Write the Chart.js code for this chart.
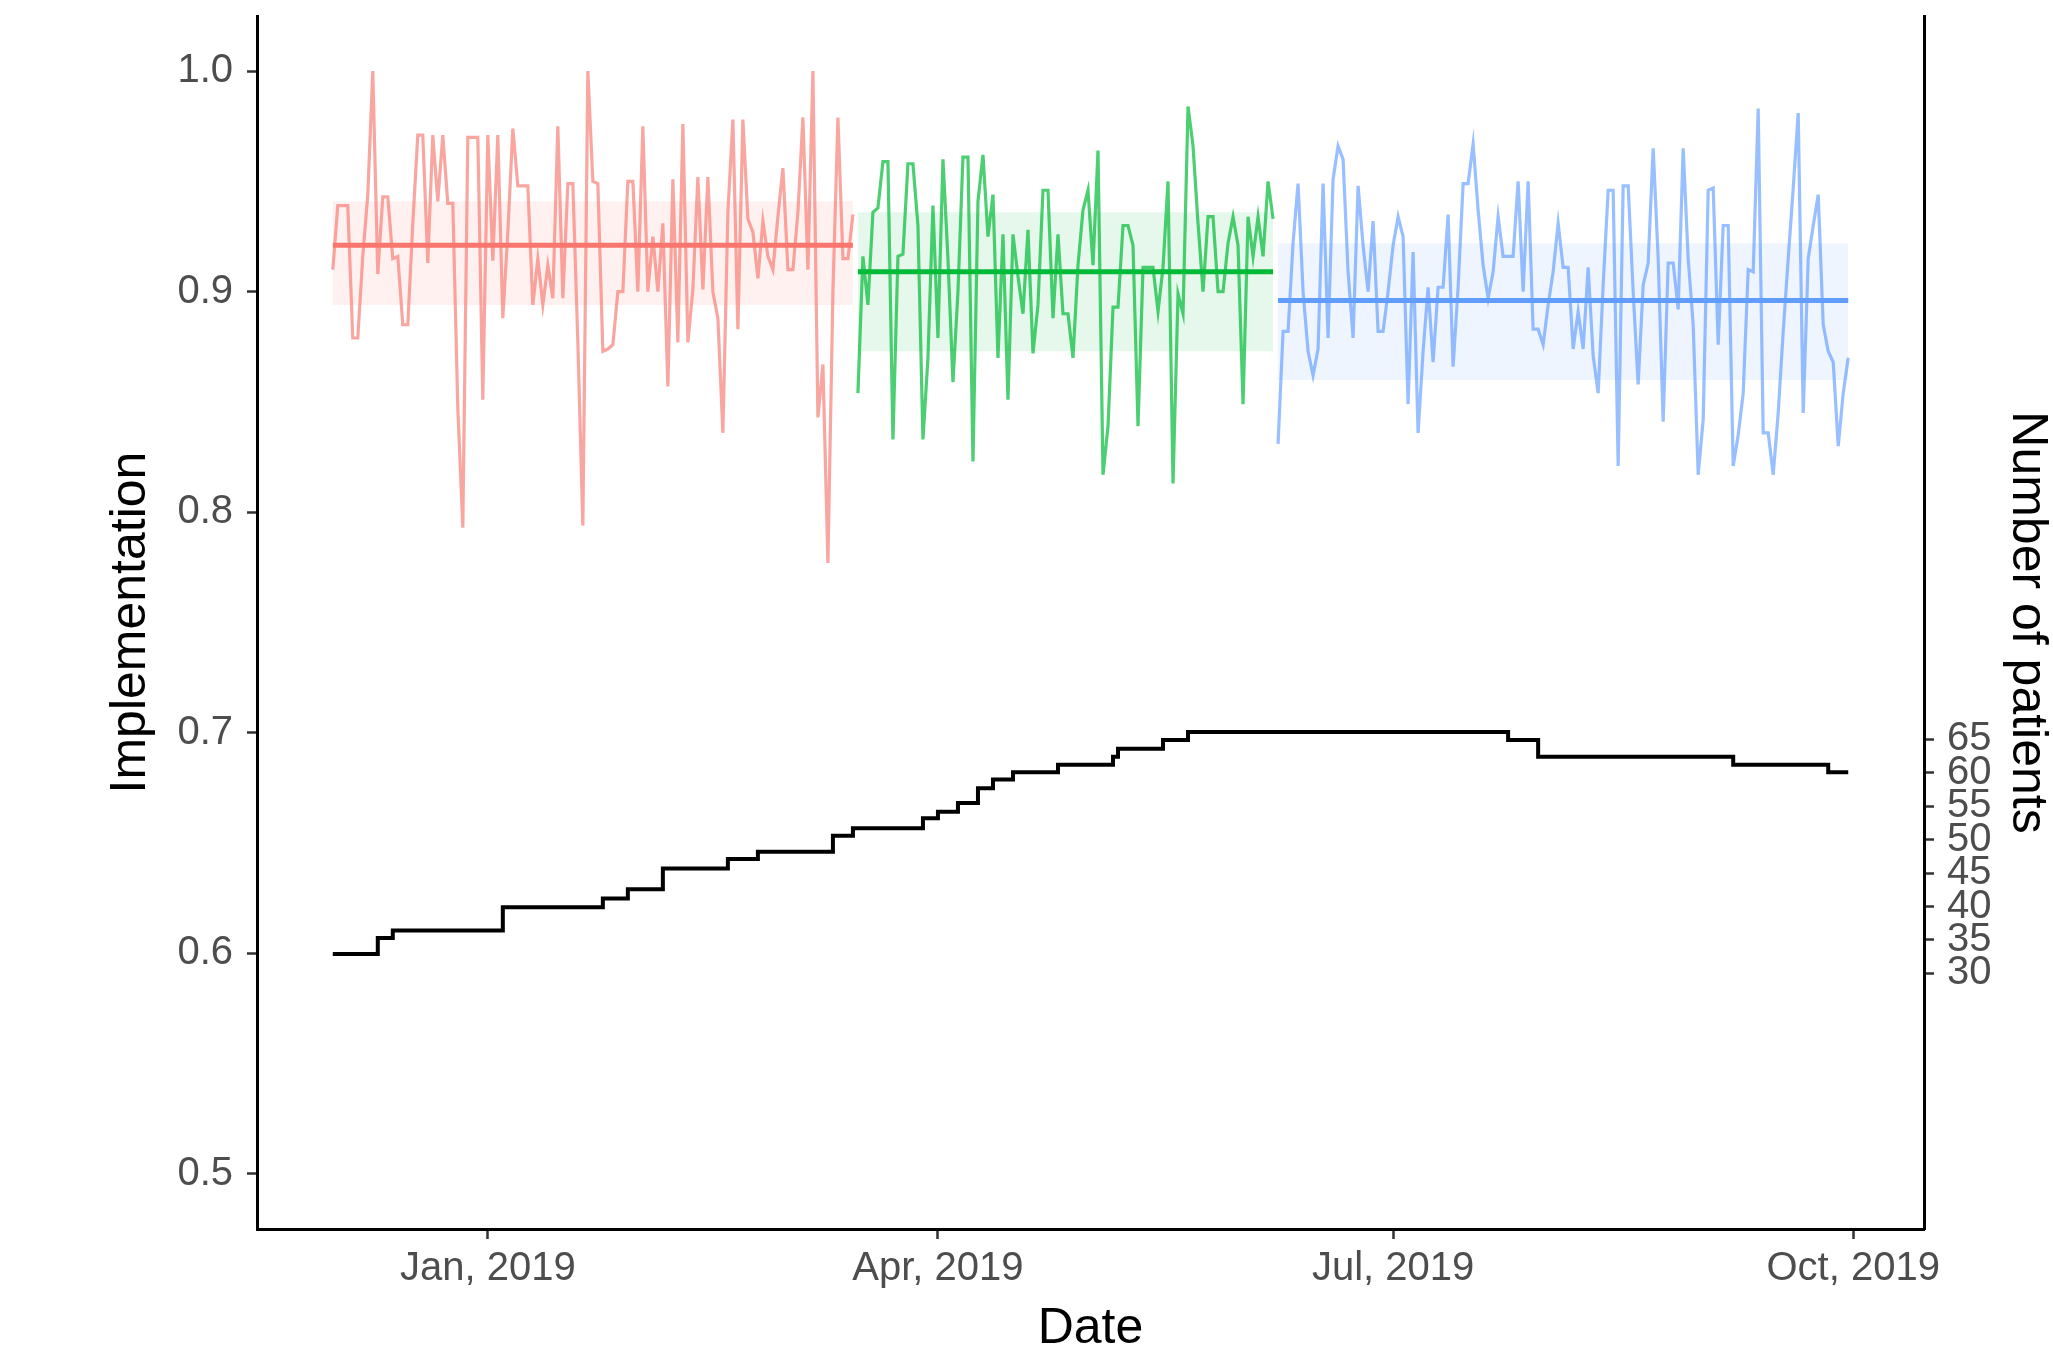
<!DOCTYPE html>
<html lang="en">
<head>
    <meta charset="UTF-8">
    <title>Implementation over time</title>
    <script src="https://cdn.jsdelivr.net/npm/chart.js"></script>
    <style>
        html, body { margin: 0; padding: 0; background: #ffffff; }
        #wrap { width: 2053px; height: 1346px; }
    </style>
</head>
<body>
<div id="wrap"><canvas id="grafico" width="2053" height="1346"></canvas></div>

<script>
    // three phases, each one a daily series (red, green, blue)
    const phaseStart = ['2018-12-01', '2019-03-16', '2019-06-08'];
    const phaseMean = [0.921, 0.909, 0.896];
    const phaseLow = [0.894, 0.873, 0.860];
    const phaseHigh = [0.941, 0.936, 0.922];

    const redValues = [
        0.910, 0.939, 0.939, 0.939, 0.879, 0.879, 0.916, 0.944, 1.000, 0.908,
        0.943, 0.943, 0.915, 0.916, 0.885, 0.885, 0.931, 0.971, 0.971, 0.913,
        0.971, 0.941, 0.971, 0.940, 0.940, 0.847, 0.793, 0.970, 0.970, 0.970,
        0.851, 0.971, 0.914, 0.971, 0.888, 0.927, 0.974, 0.948, 0.948, 0.948,
        0.894, 0.915, 0.894, 0.912, 0.897, 0.975, 0.897, 0.949, 0.949, 0.877,
        0.794, 1.000, 0.950, 0.949, 0.873, 0.874, 0.876, 0.900, 0.900, 0.950,
        0.950, 0.900, 0.975, 0.900, 0.925, 0.900, 0.931, 0.857, 0.951, 0.877,
        0.976, 0.877, 0.901, 0.952, 0.901, 0.952, 0.900, 0.888, 0.836, 0.936,
        0.978, 0.883, 0.978, 0.933, 0.927, 0.906, 0.932, 0.916, 0.910, 0.934,
        0.956, 0.910, 0.910, 0.936, 0.979, 0.910, 1.000, 0.843, 0.867, 0.777,
        0.900, 0.979, 0.915, 0.915, 0.935
    ];

    const greenValues = [
        0.854, 0.916, 0.894, 0.936, 0.938, 0.959, 0.959, 0.833, 0.916, 0.917,
        0.958, 0.958, 0.930, 0.833, 0.870, 0.939, 0.879, 0.960, 0.915, 0.859,
        0.900, 0.961, 0.961, 0.823, 0.941, 0.962, 0.925, 0.944, 0.870, 0.926,
        0.851, 0.926, 0.907, 0.890, 0.928, 0.872, 0.894, 0.946, 0.946, 0.888,
        0.926, 0.890, 0.890, 0.870, 0.912, 0.937, 0.946, 0.912, 0.964, 0.817,
        0.839, 0.893, 0.893, 0.930, 0.930, 0.921, 0.839, 0.911, 0.911, 0.911,
        0.891, 0.911, 0.950, 0.813, 0.899, 0.890, 0.984, 0.966, 0.931, 0.900,
        0.934, 0.934, 0.900, 0.900, 0.922, 0.934, 0.921, 0.849, 0.934, 0.916,
        0.934, 0.916, 0.950, 0.933
    ];

    const blueValues = [
        0.831, 0.882, 0.882, 0.922, 0.949, 0.900, 0.873, 0.862, 0.874, 0.949,
        0.879, 0.951, 0.966, 0.960, 0.909, 0.879, 0.948, 0.921, 0.900, 0.932,
        0.882, 0.882, 0.900, 0.921, 0.934, 0.925, 0.849, 0.918, 0.836, 0.873,
        0.902, 0.868, 0.902, 0.902, 0.935, 0.866, 0.902, 0.949, 0.949, 0.967,
        0.937, 0.912, 0.897, 0.909, 0.934, 0.916, 0.916, 0.916, 0.950, 0.900,
        0.950, 0.883, 0.883, 0.876, 0.894, 0.909, 0.931, 0.911, 0.911, 0.874,
        0.891, 0.874, 0.911, 0.871, 0.854, 0.903, 0.946, 0.946, 0.821, 0.948,
        0.948, 0.900, 0.858, 0.903, 0.913, 0.965, 0.915, 0.841, 0.913, 0.913,
        0.892, 0.965, 0.915, 0.885, 0.817, 0.842, 0.946, 0.947, 0.876, 0.930,
        0.930, 0.821, 0.835, 0.854, 0.910, 0.909, 0.983, 0.836, 0.836, 0.817,
        0.845, 0.882, 0.915, 0.947, 0.981, 0.845, 0.915, 0.930, 0.944, 0.885,
        0.873, 0.868, 0.830, 0.854, 0.870
    ];

    // number of patients (right axis), value holds from each date to the next
    const patientDates = [
        '2018-12-01', '2018-12-10', '2018-12-13', '2019-01-04', '2019-01-24',
        '2019-01-29', '2019-02-05', '2019-02-18', '2019-02-24', '2019-03-11',
        '2019-03-15', '2019-03-29', '2019-04-01', '2019-04-05', '2019-04-09',
        '2019-04-12', '2019-04-16', '2019-04-25', '2019-05-06', '2019-05-07',
        '2019-05-16', '2019-05-21', '2019-07-24', '2019-07-30', '2019-09-07',
        '2019-09-26', '2019-09-30'
    ];
    const patientCounts = [
        32.9, 35.3, 36.4, 39.9, 41.2,
        42.6, 45.7, 47.1, 48.2, 50.6,
        51.7, 53.2, 54.2, 55.5, 57.7,
        59.0, 60.1, 61.2, 62.4, 63.6,
        64.9, 66.1, 64.9, 62.4, 61.2,
        60.1, 60.1
    ];

    const xTickDates = ['2019-01-01', '2019-04-01', '2019-07-01', '2019-10-01'];
    const yTicks = [0.5, 0.6, 0.7, 0.8, 0.9, 1.0];
    const patientTicks = [30, 35, 40, 45, 50, 55, 60, 65];
    const monthNames = ['Jan', 'Feb', 'Mar', 'Apr', 'May', 'Jun', 'Jul', 'Aug', 'Sep', 'Oct', 'Nov', 'Dec'];

    const DAY = 86400000;
    const yMin = 0.475, yMax = 1.025;
    // secondary axis: patients = (implementation - 0.5) * 330
    const toPatients = v => (v - 0.5) * 330;

    function toTime(s) {
        return new Date(s + 'T00:00:00Z').getTime();
    }

    const lineColors = ['rgba(248,118,109,0.65)', 'rgba(0,186,56,0.7)', 'rgba(97,156,255,0.65)'];
    const meanColors = ['#F8766D', '#00BA38', '#619CFF'];
    const ribbonColors = ['rgba(248,118,109,0.1)', 'rgba(0,186,56,0.1)', 'rgba(97,156,255,0.1)'];
    const phaseValues = [redValues, greenValues, blueValues];

    let datasets = [];

    // patient line on top
    datasets.push({
        data: patientDates.map((d, i) => ({ x: toTime(d), y: patientCounts[i] })),
        yAxisID: 'y2',
        borderColor: '#000000',
        borderWidth: 4,
        stepped: true,
        pointRadius: 0,
        fill: false,
        order: 0
    });

    for (let i = 0; i < phaseValues.length; i++) {
        const start = toTime(phaseStart[i]);
        const end = start + (phaseValues[i].length - 1) * DAY;

        datasets.push({
            data: [{ x: start, y: phaseMean[i] }, { x: end, y: phaseMean[i] }],
            borderColor: meanColors[i],
            borderWidth: 5,
            pointRadius: 0,
            fill: false,
            order: 1
        });

        datasets.push({
            data: phaseValues[i].map((v, j) => ({ x: start + j * DAY, y: v })),
            borderColor: lineColors[i],
            borderWidth: 3.2,
            pointRadius: 0,
            fill: false,
            order: 2
        });

        // ribbon: upper edge filled down to the lower edge (next dataset)
        datasets.push({
            data: [{ x: start, y: phaseHigh[i] }, { x: end, y: phaseHigh[i] }],
            borderColor: 'rgba(0,0,0,0)',
            borderWidth: 0,
            backgroundColor: ribbonColors[i],
            pointRadius: 0,
            fill: '+1',
            order: 3
        });
        datasets.push({
            data: [{ x: start, y: phaseLow[i] }, { x: end, y: phaseLow[i] }],
            borderColor: 'rgba(0,0,0,0)',
            borderWidth: 0,
            pointRadius: 0,
            fill: false,
            order: 3
        });
    }

    const firstDay = toTime(phaseStart[0]);
    const lastDay = toTime(phaseStart[2]) + (blueValues.length - 1) * DAY;
    const pad = (lastDay - firstDay) * 0.05;

    const fam = "'Liberation Sans', Arial, sans-serif";
    Chart.defaults.font.family = fam;

    const tickFont = { family: fam, size: 40 };
    const titleFont = { family: fam, size: 50, lineHeight: 1 };

    // fixed box sizes so the plot area lands where the original has it
    function fitY(width) {
        return function (s) {
            s.width = width;
            s.paddingTop = 0;
            s.paddingBottom = 0;
        };
    }

    const config = {
        type: 'line',
        data: { datasets: datasets },
        options: {
            responsive: false,
            animation: false,
            devicePixelRatio: 1,
            layout: { padding: { top: 16, left: 0, right: 0, bottom: 0 } },
            plugins: {
                legend: { display: false },
                tooltip: { enabled: false }
            },
            scales: {
                x: {
                    type: 'linear',
                    min: firstDay - pad,
                    max: lastDay + pad,
                    afterBuildTicks: s => { s.ticks = xTickDates.map(d => ({ value: toTime(d) })); },
                    afterFit: s => { s.height = 117; s.paddingLeft = 0; s.paddingRight = 0; },
                    ticks: {
                        autoSkip: false,
                        maxRotation: 0,
                        padding: 6,
                        color: '#4D4D4D',
                        font: tickFont,
                        callback: function (value) {
                            const d = new Date(value);
                            return monthNames[d.getUTCMonth()] + ', ' + d.getUTCFullYear();
                        }
                    },
                    grid: { drawOnChartArea: false, tickLength: 10, tickColor: '#333333', tickWidth: 2.5 },
                    border: { color: '#000000', width: 3 },
                    title: {
                        display: true,
                        text: 'Date',
                        color: '#000000',
                        font: { family: fam, size: 50, lineHeight: 0.68 },
                        padding: 0
                    }
                },
                y: {
                    position: 'left',
                    min: yMin,
                    max: yMax,
                    afterBuildTicks: s => { s.ticks = yTicks.map(v => ({ value: v })); },
                    afterFit: fitY(257),
                    ticks: {
                        padding: 14,
                        color: '#4D4D4D',
                        font: tickFont,
                        callback: v => Number(v).toFixed(1)
                    },
                    grid: { drawOnChartArea: false, tickLength: 10, tickColor: '#333333', tickWidth: 2.5 },
                    border: { color: '#000000', width: 3 },
                    title: {
                        display: true,
                        text: 'Implementation',
                        color: '#000000',
                        font: titleFont,
                        padding: { top: 106, bottom: 0 }
                    }
                },
                y2: {
                    position: 'right',
                    min: toPatients(yMin),
                    max: toPatients(yMax),
                    afterBuildTicks: s => { s.ticks = patientTicks.map(v => ({ value: v })); },
                    afterFit: fitY(129),
                    ticks: {
                        padding: 13,
                        color: '#4D4D4D',
                        font: tickFont
                    },
                    grid: { drawOnChartArea: false, tickLength: 10, tickColor: '#333333', tickWidth: 2.5 },
                    border: { color: '#000000', width: 3 },
                    title: {
                        display: true,
                        text: 'Number of patients',
                        color: '#000000',
                        font: titleFont,
                        padding: { top: 1, bottom: 0 }
                    }
                }
            }
        }
    };

    let myChart = new Chart(document.getElementById('grafico'), config);
</script>
</body>
</html>
